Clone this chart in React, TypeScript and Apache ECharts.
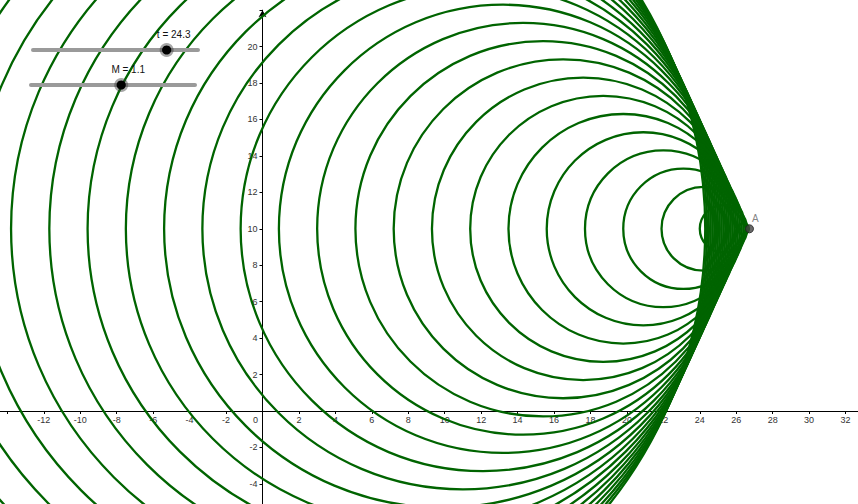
import React, { useEffect, useRef } from "react";
import * as echarts from "echarts";

// Slider values (GeoGebra construction)
const tValue = 24.3;
const tRange = [0, 30];
const machValue = 1.1;
const machRange = [0, 2];

// Wavefronts emitted at times 0..24 : centre x, centre y and radius
const emissionTimes = [0, 1, 2, 3, 4, 5, 6, 7, 8, 9, 10, 11, 12, 13, 14, 15, 16, 17, 18, 19, 20, 21, 22, 23, 24];
const circleCentersX = [0, 1.1, 2.2, 3.3, 4.4, 5.5, 6.6, 7.7, 8.8, 9.9, 11, 12.1, 13.2, 14.3, 15.4, 16.5, 17.6, 18.7, 19.8, 20.9, 22, 23.1, 24.2, 25.3, 26.4];
const circleCenterY = 10;
const circleRadii = [24.3, 23.3, 22.3, 21.3, 20.3, 19.3, 18.3, 17.3, 16.3, 15.3, 14.3, 13.3, 12.3, 11.3, 10.3, 9.3, 8.3, 7.3, 6.3, 5.3, 4.3, 3.3, 2.3, 1.3, 0.3];

// Source point A
const pointA = [26.73, 10];

// Axis ranges and hidden tick labels
const xRange = [-16, 34];
const yRange = [-6, 22];
const hiddenXLabels = [-16, -14, 0, 34];
const hiddenYLabels = [-6, 0, 22];

const FONT = '"Liberation Sans", Arial, sans-serif';

// layout (pixels)
const W = 858;
const H = 504;
const SCALE = 18.22;
const ORIGIN_X = 262.5;
const ORIGIN_Y = 411;
const GRID_LEFT = ORIGIN_X + xRange[0] * SCALE;
const GRID_RIGHT_EDGE = ORIGIN_X + xRange[1] * SCALE;
const GRID_TOP = ORIGIN_Y - yRange[1] * SCALE;
const GRID_BOTTOM_EDGE = ORIGIN_Y - yRange[0] * SCALE;

function slider(x1: number, x2: number, y: number, value: number, range: number[], label: string) {
  const kx = x1 + ((value - range[0]) / (range[1] - range[0])) * (x2 - x1);
  return [
    {
      type: "line",
      shape: { x1, y1: y, x2, y2: y },
      style: { stroke: "#9a9a9a", lineWidth: 4, lineCap: "round" },
      z: 10,
    },
    { type: "circle", shape: { cx: kx, cy: y, r: 7 }, style: { fill: "rgba(60,60,60,0.45)" }, z: 11 },
    { type: "circle", shape: { cx: kx, cy: y, r: 4.6 }, style: { fill: "#000000" }, z: 12 },
    {
      type: "text",
      x: kx + 7,
      y: y - 16,
      style: { text: label, fill: "#111", font: `10px ${FONT}`, align: "center", verticalAlign: "middle" },
      z: 12,
    },
  ];
}

export default function App() {
  const ref = useRef<HTMLDivElement>(null);
  useEffect(() => {
    if (!ref.current) return;
    const chart = echarts.init(ref.current, undefined, { renderer: "svg" });
    const circleData = emissionTimes.map((_, i) => [circleCentersX[i], circleCenterY, circleRadii[i]]);
    const option: any = {
      animation: false,
      backgroundColor: "#ffffff",
      grid: {
        left: GRID_LEFT,
        right: W - GRID_RIGHT_EDGE,
        top: GRID_TOP,
        bottom: H - GRID_BOTTOM_EDGE,
        containLabel: false,
        outerBoundsMode: "none",
      },
      xAxis: {
        type: "value",
        position: "bottom",
        offset: -(GRID_BOTTOM_EDGE - ORIGIN_Y),
        min: xRange[0],
        max: xRange[1],
        interval: 2,
        splitLine: { show: false },
        axisLine: { onZero: false, lineStyle: { color: "#000", width: 1 }, symbol: ["none", "arrow"], symbolSize: [6, 7] },
        axisTick: { show: true, length: 3, lineStyle: { color: "#000" } },
        axisLabel: {
          margin: 4,
          color: "#333",
          fontSize: 9,
          fontFamily: FONT,
          formatter: (v: number) => (hiddenXLabels.includes(v) ? "" : String(v)),
        },
      },
      yAxis: {
        type: "value",
        position: "left",
        offset: -(ORIGIN_X - GRID_LEFT),
        min: yRange[0],
        max: yRange[1],
        interval: 2,
        splitLine: { show: false },
        axisLine: { onZero: false, lineStyle: { color: "#000", width: 1 }, symbol: ["none", "arrow"], symbolSize: [6, 7] },
        axisTick: { show: true, length: 3, lineStyle: { color: "#000" } },
        axisLabel: {
          margin: 5,
          color: "#333",
          fontSize: 9,
          fontFamily: FONT,
          formatter: (v: number) => (hiddenYLabels.includes(v) ? "" : String(v)),
        },
      },
      series: [
        {
          type: "custom",
          clip: false,
          data: circleData,
          encode: { x: 0, y: 1 },
          renderItem: (_params: any, api: any) => {
            const cx = api.value(0);
            const cy = api.value(1);
            const r = api.value(2);
            const c = api.coord([cx, cy]);
            const e = api.coord([cx + r, cy + r]);
            return {
              type: "ellipse",
              shape: { cx: c[0], cy: c[1], rx: Math.abs(e[0] - c[0]), ry: Math.abs(e[1] - c[1]) },
              style: { fill: "none", stroke: "#006400", lineWidth: 2.3 },
            };
          },
          z: 3,
        },
        {
          type: "scatter",
          data: [pointA],
          symbol: "circle",
          symbolSize: 8,
          itemStyle: { color: "#444444", borderColor: "#222222", borderWidth: 1 },
          label: {
            show: true,
            formatter: "A",
            position: [7, -11],
            color: "#666",
            fontSize: 10,
            fontFamily: FONT,
          },
          z: 5,
        },
      ],
      graphic: [
        ...slider(33, 198, 50, tValue, tRange, `t = ${tValue}`),
        ...slider(31, 195, 85, machValue, machRange, `M = ${machValue}`),
        {
          type: "text",
          x: 258,
          y: 420,
          style: { text: "0", fill: "#333", font: `9px ${FONT}`, align: "right", verticalAlign: "middle" },
          z: 12,
        },
      ],
    };
    chart.setOption(option);
    return () => chart.dispose();
  }, []);
  return (
    <div
      ref={ref}
      style={{ position: "absolute", left: 0, top: 0, width: W, height: H, background: "#fff" }}
    />
  );
}
